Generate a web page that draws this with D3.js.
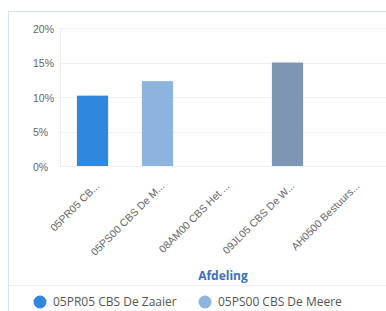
<!DOCTYPE html>
<html>
<head>
<meta charset="utf-8">
<script src="https://cdn.jsdelivr.net/npm/d3@7"></script>
<style>
  body { margin: 0; background: #fff; }
  svg { display: block; font-family: "Open Sans", sans-serif; }
</style>
</head>
<body>
<script>
"use strict";

// categories on x (truncated like the original)
var categories = ["05PR05 CB...", "05PS00 CBS De M...", "08AM00 CBS Het ...", "09JL05 CBS De W...", "AH0500 Bestuurs..."];
var values = [10.2, 12.3, null, 15.0, null];
var barColors = ["#2f88dc", "#8db4de", "#9fb8d8", "#7e95b4", "#a9c1e0"];
var yTicks = [0, 5, 10, 15, 20];
var legendNames = ["05PR05 CBS De Zaaier", "05PS00 CBS De Meere"];
var legendColors = ["#2f88dc", "#8db4de"];

window.onload = function() {
  var width = 386, height = 311;
  var svg = d3.select("body").append("svg")
      .attr("width", width)
      .attr("height", height);

  // panel border
  svg.append("rect")
      .attr("x", 8.5).attr("y", 11.5)
      .attr("width", 400).attr("height", 320)
      .attr("fill", "#fff")
      .attr("stroke", "#d6e4ec");

  var x = d3.scaleBand()
      .domain(categories)
      .range([60, 385])
      .paddingInner(0.52)
      .paddingOuter(0.26);

  var y = d3.scaleLinear()
      .domain([0, 20])
      .range([166, 28]);

  // grid
  svg.append("g")
      .selectAll("line")
      .data(yTicks)
      .join("line")
      .attr("x1", 60).attr("x2", 386)
      .attr("y1", function(d) { return Math.round(y(d)) + 0.5; })
      .attr("y2", function(d) { return Math.round(y(d)) + 0.5; })
      .attr("stroke", "#eef0f2");

  svg.append("line")
      .attr("x1", 60.5).attr("x2", 60.5)
      .attr("y1", 28).attr("y2", 166)
      .attr("stroke", "#eceef0");

  // y axis labels, left aligned like the original
  var yAxis = d3.axisLeft(y)
      .tickValues(yTicks)
      .tickSize(0)
      .tickPadding(0)
      .tickFormat(function(d) { return d + "%"; });
  var gy = svg.append("g")
      .attr("transform", "translate(33,1)")
      .call(yAxis);
  gy.select(".domain").remove();
  gy.selectAll("text")
      .attr("text-anchor", "start")
      .attr("fill", "#666")
      .style("font-size", "10.5px");

  // bars
  svg.append("g")
      .selectAll("rect")
      .data(categories.map(function(c, i) { return {c: c, v: values[i], col: barColors[i]}; })
        .filter(function(d) { return d.v != null; }))
      .join("rect")
      .attr("x", function(d) { return x(d.c); })
      .attr("width", x.bandwidth())
      .attr("y", function(d) { return y(d.v); })
      .attr("height", function(d) { return y(0) - y(d.v); })
      .attr("fill", function(d) { return d.col; });

  // x axis labels (rotated)
  var xAxis = d3.axisBottom(x).tickSize(0).tickPadding(0);
  var gx = svg.append("g")
      .attr("transform", "translate(0,184)")
      .call(xAxis);
  gx.select(".domain").remove();
  gx.selectAll("text")
      .attr("fill", "#666")
      .style("font-size", "10.5px")
      .attr("text-anchor", "end")
      .attr("dy", "0.35em")
      .attr("transform", "translate(5,0) rotate(-45)");

  // axis title
  svg.append("text")
      .attr("x", 223).attr("y", 280)
      .attr("text-anchor", "middle")
      .attr("fill", "#3b6fbf")
      .style("font-size", "12px")
      .style("font-weight", "bold")
      .text("Afdeling");

  // separator above legend
  svg.append("line")
      .attr("x1", 9).attr("x2", 386)
      .attr("y1", 285.5).attr("y2", 285.5)
      .attr("stroke", "#eeeeee");

  // legend
  var legX = [40, 205];
  var leg = svg.append("g")
      .selectAll("g")
      .data(legendNames)
      .join("g")
      .attr("transform", function(d, i) { return "translate(" + legX[i] + ",302)"; });
  leg.append("circle")
      .attr("r", 6.5)
      .attr("fill", function(d, i) { return legendColors[i]; });
  leg.append("text")
      .attr("x", 13)
      .attr("dy", "0.35em")
      .attr("fill", "#555")
      .style("font-size", "12px")
      .text(function(d) { return d; });
};
</script>
</body>
</html>
